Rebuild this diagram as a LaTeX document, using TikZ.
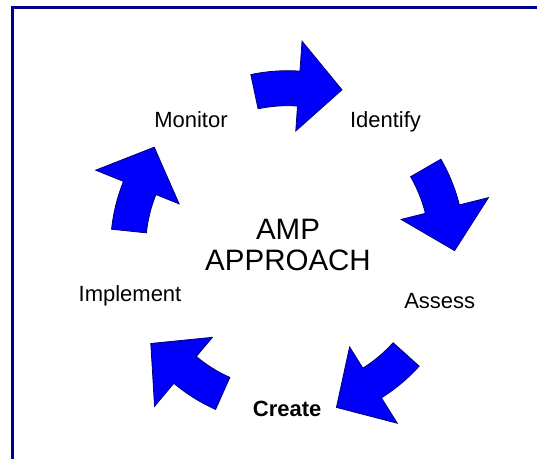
\documentclass[tikz,border=0pt]{standalone}
\usepackage{fontspec}
\setmainfont{Liberation Sans}
\definecolor{arrowblue}{RGB}{0,0,250}
\definecolor{arrowedge}{RGB}{0,0,120}
\definecolor{framenavy}{RGB}{0,0,140}
\tikzset{
  cycle arrow/.style={
    fill=arrowblue,
    draw=arrowedge,
    line width=0.8pt,
    line join=miter
  },
  step label/.style={
    anchor=base,
    font=\fontsize{22}{26}\selectfont
  },
  frame line/.style={
    draw=framenavy,
    line width=3pt
  }
}
\begin{document}
\begin{tikzpicture}[x=1pt,y=1pt]
  \useasboundingbox (0,0) rectangle (537,459);
  \fill[white] (0,0) rectangle (537,459);
  % only the top and left edges of the frame show
  \draw[frame line] (12.5,0) -- (12.5,451.5) -- (537,451.5);

  \coordinate (hub) at (287.6,211.3);
  \foreach \t in {71,-1,-73,-145,143}{
    \draw[cycle arrow,shift={(hub)}]
      (\t+31:177) arc[start angle=\t+31, end angle=\t+15, radius=177]
      -- (\t+15:207) -- (\t:167) -- (\t+15:117) -- (\t+15:142)
      arc[start angle=\t+15, end angle=\t+31, radius=142] -- cycle;
  }

  \node[step label] (monitor) at (191,332) {Monitor};
  \node[step label] (identify) at (385.5,332) {Identify};
  \node[step label] (assess) at (439.7,151) {Assess};
  \node[step label,font=\fontsize{22}{26}\selectfont\bfseries] (create) at (287.2,43) {Create};
  \node[step label] (implement) at (130,158) {Implement};
  \node[font=\fontsize{29.5}{30.7}\selectfont,align=center] (approach) at (288,213.7) {AMP\\APPROACH};
\end{tikzpicture}
\end{document}
